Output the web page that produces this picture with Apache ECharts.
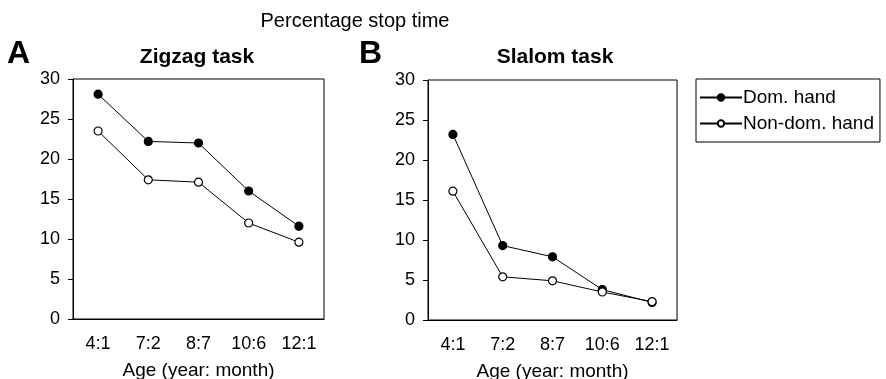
<!DOCTYPE html>
<html><head><meta charset="utf-8">
<script src="https://cdn.jsdelivr.net/npm/echarts@6/dist/echarts.min.js"></script>
<style>html,body{margin:0;padding:0;background:#fff}#c{width:886px;height:379px}</style>
</head><body><div id="c"></div>
<script>
const categories = ['4:1','7:2','8:7','10:6','12:1'];
const zigzagDom = [28.1, 22.2, 22.0, 16.0, 11.6];
const zigzagNonDom = [23.5, 17.4, 17.1, 12.0, 9.6];
const slalomDom = [23.2, 9.3, 7.9, 3.8, 2.2];
const slalomNonDom = [16.1, 5.4, 4.9, 3.5, 2.3];
const yTicks = [0, 5, 10, 15, 20, 25, 30];

const FONT = '"Liberation Sans", Arial, sans-serif';
const chart = echarts.init(document.getElementById('c'));
function xAx(gi){return {type:'category',gridIndex:gi,data:categories,boundaryGap:true,
  axisLine:{lineStyle:{color:'#000',width:1}},axisTick:{alignWithLabel:true,length:5,lineStyle:{color:'#000'}},
  axisLabel:{color:'#000',fontSize:18,fontFamily:FONT,margin:16},
  name:'Age (year: month)',nameLocation:'middle',nameGap:42,nameTextStyle:{color:'#000',fontSize:19,fontFamily:FONT}};}
function yAx(gi){return {type:'value',gridIndex:gi,min:yTicks[0],max:yTicks[yTicks.length-1],interval:5,
  axisLine:{show:true,lineStyle:{color:'#000',width:1}},axisTick:{show:true,length:5,lineStyle:{color:'#000'}},
  splitLine:{show:false},axisLabel:{color:'#000',fontSize:18,fontFamily:FONT,margin:13}};}
function ser(name,data,gi,filled){return {name:name,type:'line',xAxisIndex:gi,yAxisIndex:gi,data:data,
  symbol:'circle',symbolSize:8,showSymbol:true,
  lineStyle:{color:'#000',width:1},
  itemStyle:{color:filled?'#000':'#fff',borderColor:'#000',borderWidth:1.2},
  animation:false};}
chart.setOption({
  animation:false,
  title:[
    {text:'Percentage stop time',left:355,top:11,padding:0,textAlign:'center',textStyle:{fontSize:20,fontWeight:'normal',color:'#000',fontFamily:FONT}},
    {text:'A',left:7,top:38,padding:0,textStyle:{fontSize:32,fontWeight:'bold',color:'#000',fontFamily:FONT}},
    {text:'Zigzag task',left:197,top:47,padding:0,textAlign:'center',textStyle:{fontSize:21,fontWeight:'bold',color:'#000',fontFamily:FONT}},
    {text:'B',left:359,top:38,padding:0,textStyle:{fontSize:32,fontWeight:'bold',color:'#000',fontFamily:FONT}},
    {text:'Slalom task',left:555,top:47,padding:0,textAlign:'center',textStyle:{fontSize:21,fontWeight:'bold',color:'#000',fontFamily:FONT}}
  ],
  grid:[
    {left:73,top:79,width:251,height:240,show:true,borderColor:'#000',borderWidth:1,backgroundColor:'transparent',outerBoundsMode:'none',containLabel:false},
    {left:428,top:80,width:249,height:240,show:true,borderColor:'#000',borderWidth:1,backgroundColor:'transparent',outerBoundsMode:'none',containLabel:false}
  ],
  xAxis:[xAx(0),xAx(1)],
  yAxis:[yAx(0),yAx(1)],
  legend:{left:696,top:79,orient:'vertical',itemGap:7,itemWidth:42,itemHeight:8,
    borderColor:'#000',borderWidth:1,padding:[9,6,9,3],
    textStyle:{color:'#000',fontSize:19,fontFamily:FONT,padding:[0,0,0,-4]},
    data:[{name:'Dom. hand'},{name:'Non-dom. hand'}]},
  series:[
    ser('Dom. hand',zigzagDom,0,true),
    ser('Non-dom. hand',zigzagNonDom,0,false),
    ser('Dom. hand',slalomDom,1,true),
    ser('Non-dom. hand',slalomNonDom,1,false)
  ]
});
</script></body></html>
